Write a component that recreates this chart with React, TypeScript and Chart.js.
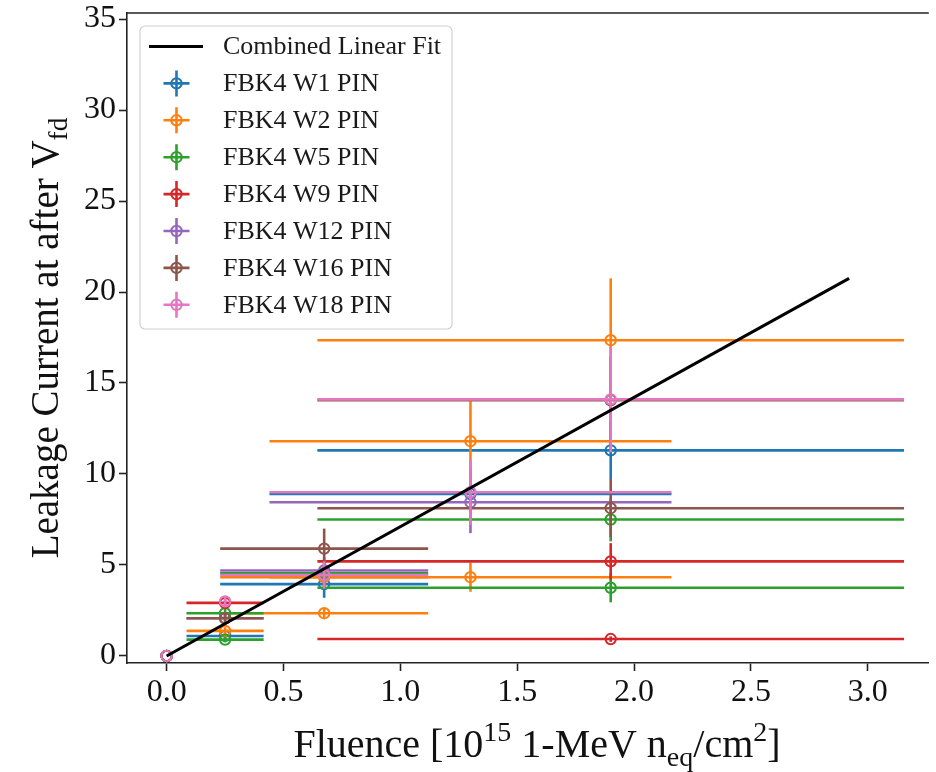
import React, { useEffect, useRef } from 'react';
import { Chart, registerables } from 'chart.js';

Chart.register(...registerables);

const SERIF = '"Liberation Serif", "Times New Roman", Times, serif';

// ---- axes ----
const xTickValues = [0, 0.5, 1.0, 1.5, 2.0, 2.5, 3.0];
const yTickValues = [0, 5, 10, 15, 20, 25, 30, 35];
const xMin = -0.1696;
const xMax = 3.261;
const yMin = -0.385;
const yMax = 35.33;

// ---- series ----
const seriesLabels = [
  'FBK4 W1 PIN',
  'FBK4 W2 PIN',
  'FBK4 W5 PIN',
  'FBK4 W9 PIN',
  'FBK4 W12 PIN',
  'FBK4 W16 PIN',
  'FBK4 W18 PIN',
];
const seriesColors = ['#1f77b4', '#ff7f0e', '#2ca02c', '#d62728', '#9467bd', '#8c564b', '#e377c2'];

const w1Fluence = [0, 0.25, 0.674, 1.3, 1.9];
const w1FluenceErr = [0, 0.165, 0.445, 0.86, 1.255];
const w1Current = [0, 1.1, 3.95, 8.9, 11.3];
const w1CurrentErr = [0, 0.2, 0.75, 1.5, 1.6];

const w2Fluence = [0, 0.25, 0.674, 0.674, 1.3, 1.3, 1.9];
const w2FluenceErr = [0, 0.165, 0.445, 0.445, 0.86, 0.86, 1.255];
const w2Current = [0, 1.38, 4.33, 2.35, 11.8, 4.33, 17.35];
const w2CurrentErr = [0, 0.2, 0.6, 0.25, 2.2, 0.8, 3.4];

const w5Fluence = [0, 0.25, 0.25, 0.674, 1.9, 1.9];
const w5FluenceErr = [0, 0.165, 0.165, 0.445, 1.255, 1.255];
const w5Current = [0, 2.35, 0.9, 4.55, 7.5, 3.75];
const w5CurrentErr = [0, 0.3, 0.15, 0.7, 1.2, 0.8];

const w9Fluence = [0, 0.25, 1.9, 1.9];
const w9FluenceErr = [0, 0.165, 1.255, 1.255];
const w9Current = [0, 2.92, 5.2, 0.93];
const w9CurrentErr = [0, 0.3, 1.0, 0.15];

const w12Fluence = [0, 0.25, 0.674, 1.3];
const w12FluenceErr = [0, 0.165, 0.445, 0.86];
const w12Current = [0, 2.07, 4.7, 8.45];
const w12CurrentErr = [0, 0.25, 0.75, 1.7];

const w16Fluence = [0, 0.25, 0.674, 1.9, 1.9];
const w16FluenceErr = [0, 0.165, 0.445, 1.255, 1.255];
const w16Current = [0, 2.07, 5.9, 14.05, 8.12];
const w16CurrentErr = [0, 0.25, 1.1, 2.4, 1.6];

const w18Fluence = [0, 0.25, 0.674, 1.3, 1.9];
const w18FluenceErr = [0, 0, 0.445, 0.86, 1.255];
const w18Current = [0, 3.0, 4.45, 9.0, 14.1];
const w18CurrentErr = [0, 0.3, 0.75, 1.8, 2.9];

const fitLabel = 'Combined Linear Fit';
const fitFluence = [0, 2.92];
const fitCurrent = [0, 20.75];

const seriesTable = [
  [w1Fluence, w1FluenceErr, w1Current, w1CurrentErr],
  [w2Fluence, w2FluenceErr, w2Current, w2CurrentErr],
  [w5Fluence, w5FluenceErr, w5Current, w5CurrentErr],
  [w9Fluence, w9FluenceErr, w9Current, w9CurrentErr],
  [w12Fluence, w12FluenceErr, w12Current, w12CurrentErr],
  [w16Fluence, w16FluenceErr, w16Current, w16CurrentErr],
  [w18Fluence, w18FluenceErr, w18Current, w18CurrentErr],
];

type Seg = { t: string; k: 'n' | 'sup' | 'sub' };
const xTitle: Seg[] = [
  { t: 'Fluence [10', k: 'n' },
  { t: '15', k: 'sup' },
  { t: ' 1-MeV n', k: 'n' },
  { t: 'eq', k: 'sub' },
  { t: '/cm', k: 'n' },
  { t: '2', k: 'sup' },
  { t: ']', k: 'n' },
];
const yTitle: Seg[] = [
  { t: 'Leakage Current at after V', k: 'n' },
  { t: 'fd', k: 'sub' },
];

function drawRich(ctx: CanvasRenderingContext2D, segs: Seg[], cx: number, baseY: number, size: number) {
  let total = 0;
  const parts = segs.map((s) => {
    const sz = s.k === 'n' ? size : size * 0.7;
    ctx.font = `${sz}px ${SERIF}`;
    const w = ctx.measureText(s.t).width;
    total += w;
    return { ...s, sz, w };
  });
  let x = cx - total / 2;
  ctx.textAlign = 'left';
  ctx.textBaseline = 'alphabetic';
  for (const p of parts) {
    ctx.font = `${p.sz}px ${SERIF}`;
    const dy = p.k === 'sup' ? -size * 0.4 : p.k === 'sub' ? size * 0.22 : 0;
    ctx.fillText(p.t, x, baseY + dy);
    x += p.w;
  }
}

const errorBarPlugin = {
  id: 'errorBars',
  beforeDatasetDraw(chart: any, args: any) {
    const ds = chart.data.datasets[args.index];
    if (!ds.hasErrors) return;
    const xs = chart.scales.x;
    const ys = chart.scales.y;
    const ctx: CanvasRenderingContext2D = chart.ctx;
    ctx.save();
    ctx.strokeStyle = ds.borderColor;
    ctx.lineWidth = 2.6;
    ctx.lineCap = 'butt';
    for (const p of ds.data) {
      const px = xs.getPixelForValue(p.x);
      const py = ys.getPixelForValue(p.y);
      if (p.xErr > 0) {
        ctx.beginPath();
        ctx.moveTo(xs.getPixelForValue(p.x - p.xErr), py);
        ctx.lineTo(xs.getPixelForValue(p.x + p.xErr), py);
        ctx.stroke();
      }
      if (p.yErr > 0) {
        ctx.beginPath();
        ctx.moveTo(px, ys.getPixelForValue(p.y - p.yErr));
        ctx.lineTo(px, ys.getPixelForValue(p.y + p.yErr));
        ctx.stroke();
      }
    }
    ctx.restore();
  },
};

const decorPlugin = {
  id: 'decor',
  afterDraw(chart: any) {
    const ctx: CanvasRenderingContext2D = chart.ctx;
    const a = chart.chartArea;
    ctx.save();
    // top spine
    ctx.strokeStyle = '#222';
    ctx.lineWidth = 1.6;
    ctx.beginPath();
    ctx.moveTo(a.left - 0.8, a.top);
    ctx.lineTo(a.right, a.top);
    ctx.stroke();

    // axis titles
    ctx.fillStyle = '#111';
    drawRich(ctx, xTitle, a.left + 410, 757, 40);
    ctx.save();
    ctx.translate(45, (a.top + a.bottom) / 2);
    ctx.rotate(-Math.PI / 2);
    drawRich(ctx, yTitle, 0, 13, 39);
    ctx.restore();

    // legend
    const lx = a.left + 13;
    const ly = a.top + 13;
    const lw = 312;
    const lh = 303;
    ctx.beginPath();
    (ctx as any).roundRect(lx, ly, lw, lh, 5);
    ctx.fillStyle = 'rgba(255,255,255,0.85)';
    ctx.fill();
    ctx.strokeStyle = '#d0d0d0';
    ctx.lineWidth = 1.2;
    ctx.stroke();

    const datasets = chart.data.datasets;
    const fit = datasets.find((d: any) => !d.hasErrors);
    const items = [fit, ...datasets.filter((d: any) => d.hasErrors)];
    const rowY0 = ly + 20.5;
    const step = 36.9;
    ctx.font = `26px ${SERIF}`;
    items.forEach((d: any, i: number) => {
      const y = rowY0 + i * step;
      const hx = lx + 36.5;
      ctx.strokeStyle = d.borderColor;
      if (!d.hasErrors) {
        ctx.lineWidth = 3;
        ctx.beginPath();
        ctx.moveTo(lx + 9, y);
        ctx.lineTo(lx + 63, y);
        ctx.stroke();
      } else {
        ctx.lineWidth = 2.6;
        ctx.beginPath();
        ctx.moveTo(hx - 13, y);
        ctx.lineTo(hx + 13, y);
        ctx.moveTo(hx, y - 13);
        ctx.lineTo(hx, y + 13);
        ctx.stroke();
        ctx.lineWidth = 2;
        ctx.beginPath();
        ctx.arc(hx, y, 5.2, 0, Math.PI * 2);
        ctx.stroke();
      }
      ctx.fillStyle = '#1a1a1a';
      ctx.textAlign = 'left';
      ctx.textBaseline = 'middle';
      ctx.fillText(d.label, lx + 83, y + 1);
    });
    ctx.restore();
  },
};

export default function App() {
  const ref = useRef<HTMLCanvasElement>(null);
  useEffect(() => {
    if (!ref.current) return;
    const n = seriesTable.length;
    const seriesDatasets = seriesTable.map(([F, Fe, I, Ie], i) => ({
      type: 'scatter' as const,
      label: seriesLabels[i],
      hasErrors: true,
      order: n - i,
      data: F.map((f, j) => ({ x: f, y: I[j], xErr: Fe[j], yErr: Ie[j] })),
      borderColor: seriesColors[i],
      backgroundColor: 'rgba(0,0,0,0)',
      pointRadius: 5.2,
      pointBorderWidth: 2,
      pointBackgroundColor: 'rgba(0,0,0,0)',
      pointBorderColor: seriesColors[i],
      showLine: false,
    }));
    const fitDataset = {
      type: 'line' as const,
      label: fitLabel,
      hasErrors: false,
      order: 0,
      data: fitFluence.map((f, j) => ({ x: f, y: fitCurrent[j] })),
      borderColor: '#000000',
      backgroundColor: '#000000',
      borderWidth: 3,
      pointRadius: 0,
      fill: false,
      tension: 0,
    };
    const tickFont = { family: SERIF, size: 32 };
    const chart = new Chart(ref.current, {
      type: 'scatter',
      data: { datasets: [...seriesDatasets, fitDataset] as any },
      plugins: [errorBarPlugin, decorPlugin],
      options: {
        animation: false,
        responsive: false,
        maintainAspectRatio: false,
        layout: { padding: { top: 13, left: 0, right: 0, bottom: 0 } },
        plugins: { legend: { display: false }, tooltip: { enabled: false } },
        scales: {
          x: {
            type: 'linear',
            min: xMin,
            max: xMax,
            afterBuildTicks: (s: any) => {
              s.ticks = xTickValues.map((v) => ({ value: v }));
            },
            afterFit: (s: any) => {
              s.height = 109;
              s.paddingLeft = 0;
              s.paddingRight = 0;
            },
            ticks: {
              font: tickFont,
              color: '#111',
              padding: 2,
              maxRotation: 0,
              autoSkip: false,
              callback: (v: any) => Number(v).toFixed(1),
            },
            grid: { display: true, drawOnChartArea: false, drawTicks: true, tickLength: 8, tickWidth: 1.6, tickColor: '#222' },
            border: { display: true, color: '#222', width: 1.6 },
          },
          y: {
            type: 'linear',
            min: yMin,
            max: yMax,
            afterBuildTicks: (s: any) => {
              s.ticks = yTickValues.map((v) => ({ value: v }));
            },
            afterFit: (s: any) => {
              s.width = 127;
              s.paddingTop = 0;
              s.paddingBottom = 0;
            },
            ticks: {
              font: tickFont,
              color: '#111',
              padding: 3,
              autoSkip: false,
              callback: (v: any) => String(v),
            },
            grid: { display: true, drawOnChartArea: false, drawTicks: true, tickLength: 8, tickWidth: 1.6, tickColor: '#222' },
            border: { display: true, color: '#222', width: 1.6 },
          },
        },
      } as any,
    });
    return () => chart.destroy();
  }, []);
  return (
    <div style={{ position: 'fixed', left: 0, top: 0, width: 936, height: 772, background: '#fff' }}>
      <canvas ref={ref} width={936} height={772} style={{ width: 936, height: 772, display: 'block' }} />
    </div>
  );
}
